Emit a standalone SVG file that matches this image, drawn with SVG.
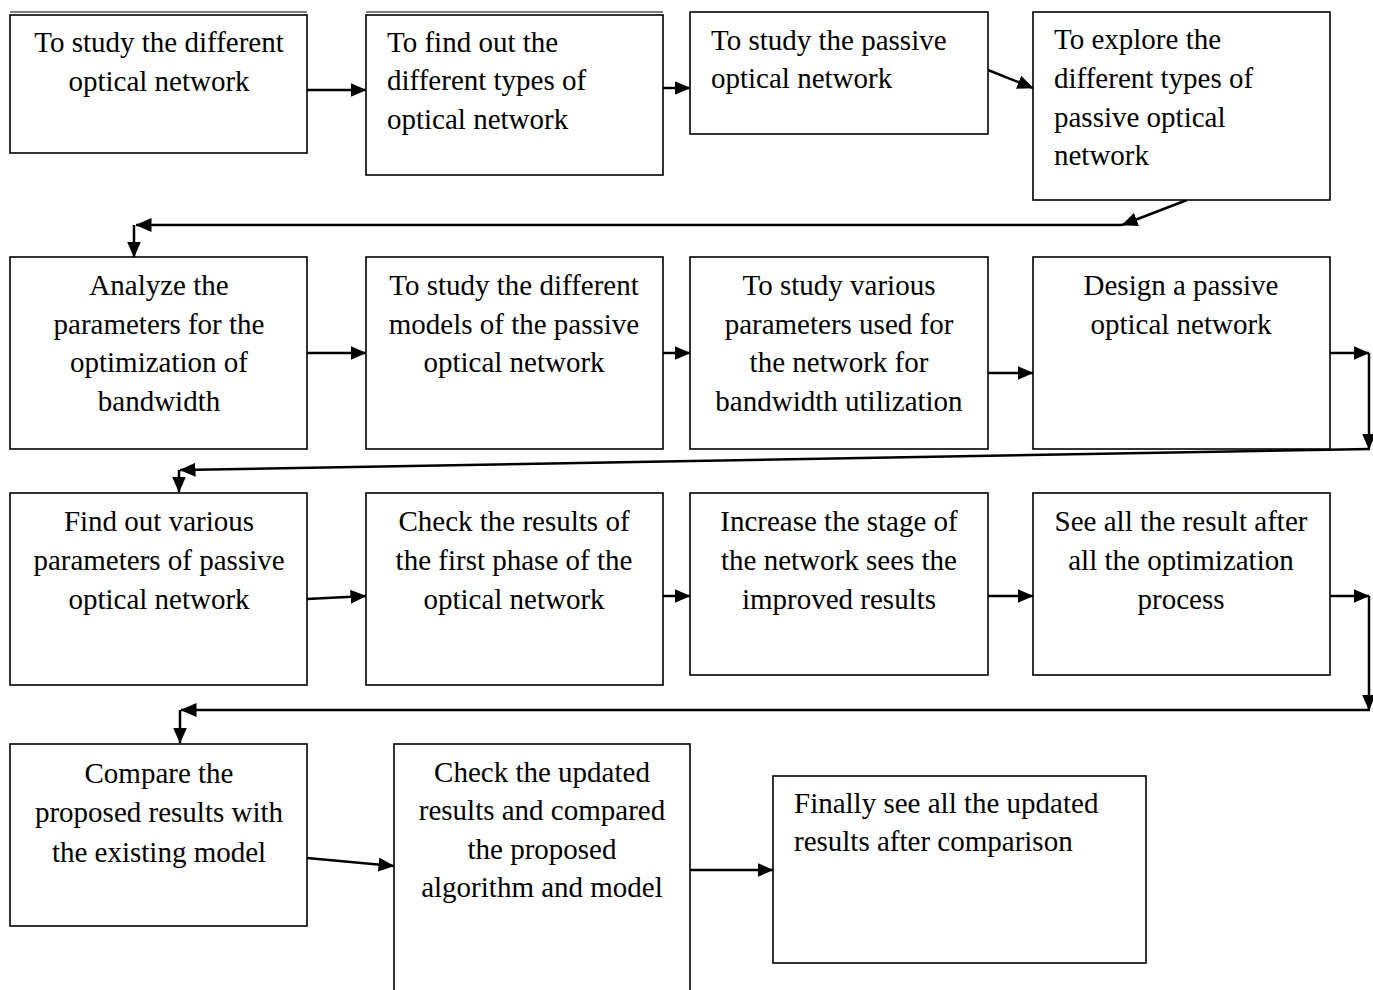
<svg xmlns="http://www.w3.org/2000/svg" width="1373" height="990" viewBox="0 0 1373 990">
<style>
.box{fill:#fff;stroke:#000;stroke-width:1.6}
.t{font-family:"Liberation Serif","Times New Roman",serif;font-size:29px;fill:#000}
.c{text-anchor:middle}
.conn{fill:none;stroke:#000;stroke-width:2.5}
</style>
<defs>
<marker id="ah" markerUnits="userSpaceOnUse" markerWidth="16" markerHeight="14" refX="15.5" refY="7" orient="auto">
<path d="M0,0 L16,7 L0,14 z" fill="#000"/>
</marker>
</defs>
<rect width="1373" height="990" fill="#fff"/>

<g id="connectors">
<line class="conn" x1="307" y1="90" x2="366" y2="90" marker-end="url(#ah)"/>
<line class="conn" x1="663" y1="88" x2="690" y2="88" marker-end="url(#ah)"/>
<line class="conn" x1="988" y1="70" x2="1033" y2="88" marker-end="url(#ah)"/>
<line class="conn" x1="1187" y1="200" x2="1122" y2="225" marker-end="url(#ah)"/>
<line class="conn" x1="1122" y1="225" x2="136" y2="225" marker-end="url(#ah)"/>
<line class="conn" x1="134" y1="225" x2="134" y2="257" marker-end="url(#ah)"/>
<line class="conn" x1="307" y1="353" x2="366" y2="353" marker-end="url(#ah)"/>
<line class="conn" x1="663" y1="353" x2="690" y2="353" marker-end="url(#ah)"/>
<line class="conn" x1="988" y1="373" x2="1033" y2="373" marker-end="url(#ah)"/>
<line class="conn" x1="1330" y1="353" x2="1369" y2="353" marker-end="url(#ah)"/>
<line class="conn" x1="1369" y1="353" x2="1369" y2="449" marker-end="url(#ah)"/>
<line class="conn" x1="1370" y1="449" x2="180" y2="470" marker-end="url(#ah)"/>
<line class="conn" x1="179" y1="470" x2="179" y2="492" marker-end="url(#ah)"/>
<line class="conn" x1="307" y1="599" x2="366" y2="596" marker-end="url(#ah)"/>
<line class="conn" x1="663" y1="596" x2="690" y2="596" marker-end="url(#ah)"/>
<line class="conn" x1="988" y1="596" x2="1033" y2="596" marker-end="url(#ah)"/>
<line class="conn" x1="1330" y1="596" x2="1369" y2="596" marker-end="url(#ah)"/>
<line class="conn" x1="1369" y1="596" x2="1369" y2="710" marker-end="url(#ah)"/>
<line class="conn" x1="1370" y1="710" x2="181" y2="710" marker-end="url(#ah)"/>
<line class="conn" x1="180" y1="710" x2="180" y2="743" marker-end="url(#ah)"/>
<line class="conn" x1="307" y1="858" x2="394" y2="866" marker-end="url(#ah)"/>
<line class="conn" x1="690" y1="870" x2="773" y2="870" marker-end="url(#ah)"/>
</g>

<g id="n1">
<line x1="10" y1="12" x2="307" y2="12" stroke="#000" stroke-width="1.2"/>
<rect class="box" x="10" y="15" width="297" height="138"/>
<text class="t c" x="159" y="52">To study the different</text>
<text class="t c" x="159" y="91">optical network</text>
</g>
<g id="n2">
<line x1="366" y1="12" x2="663" y2="12" stroke="#000" stroke-width="1.2"/>
<rect class="box" x="366" y="15" width="297" height="160"/>
<text class="t" x="387" y="52">To find out the</text>
<text class="t" x="387" y="90">different types of</text>
<text class="t" x="387" y="129">optical network</text>
</g>
<g id="n3">
<rect class="box" x="690" y="12" width="298" height="122"/>
<text class="t" x="711" y="50">To study the passive</text>
<text class="t" x="711" y="88">optical network</text>
</g>
<g id="n4">
<rect class="box" x="1033" y="12" width="297" height="188"/>
<text class="t" x="1054" y="49">To explore the</text>
<text class="t" x="1054" y="88">different types of</text>
<text class="t" x="1054" y="127">passive optical</text>
<text class="t" x="1054" y="165">network</text>
</g>

<g id="n5">
<rect class="box" x="10" y="257" width="297" height="192"/>
<text class="t c" x="159" y="295">Analyze the</text>
<text class="t c" x="159" y="334">parameters for the</text>
<text class="t c" x="159" y="372">optimization of</text>
<text class="t c" x="159" y="411">bandwidth</text>
</g>
<g id="n6">
<rect class="box" x="366" y="257" width="297" height="192"/>
<text class="t c" x="514" y="295">To study the different</text>
<text class="t c" x="514" y="334">models of the passive</text>
<text class="t c" x="514" y="372">optical network</text>
</g>
<g id="n7">
<rect class="box" x="690" y="257" width="298" height="192"/>
<text class="t c" x="839" y="295">To study various</text>
<text class="t c" x="839" y="334">parameters used for</text>
<text class="t c" x="839" y="372">the network for</text>
<text class="t c" x="839" y="411">bandwidth utilization</text>
</g>
<g id="n8">
<rect class="box" x="1033" y="257" width="297" height="192"/>
<text class="t c" x="1181" y="295">Design a passive</text>
<text class="t c" x="1181" y="334">optical network</text>
</g>

<g id="n9">
<rect class="box" x="10" y="493" width="297" height="192"/>
<text class="t c" x="159" y="531">Find out various</text>
<text class="t c" x="159" y="570">parameters of passive</text>
<text class="t c" x="159" y="609">optical network</text>
</g>
<g id="n10">
<rect class="box" x="366" y="493" width="297" height="192"/>
<text class="t c" x="514" y="531">Check the results of</text>
<text class="t c" x="514" y="570">the first phase of the</text>
<text class="t c" x="514" y="609">optical network</text>
</g>
<g id="n11">
<rect class="box" x="690" y="493" width="298" height="182"/>
<text class="t c" x="839" y="531">Increase the stage of</text>
<text class="t c" x="839" y="570">the network sees the</text>
<text class="t c" x="839" y="609">improved results</text>
</g>
<g id="n12">
<rect class="box" x="1033" y="493" width="297" height="182"/>
<text class="t c" x="1181" y="531">See all the result after</text>
<text class="t c" x="1181" y="570">all the optimization</text>
<text class="t c" x="1181" y="609">process</text>
</g>

<g id="n13">
<rect class="box" x="10" y="744" width="297" height="182"/>
<text class="t c" x="159" y="783">Compare the</text>
<text class="t c" x="159" y="822">proposed results with</text>
<text class="t c" x="159" y="862">the existing model</text>
</g>
<g id="n14">
<rect class="box" x="394" y="744" width="296" height="260"/>
<text class="t c" x="542" y="782">Check the updated</text>
<text class="t c" x="542" y="820">results and compared</text>
<text class="t c" x="542" y="859">the proposed</text>
<text class="t c" x="542" y="897">algorithm and model</text>
</g>
<g id="n15">
<rect class="box" x="773" y="776" width="373" height="187"/>
<text class="t" x="794" y="813">Finally see all the updated</text>
<text class="t" x="794" y="851">results after comparison</text>
</g>
</svg>
